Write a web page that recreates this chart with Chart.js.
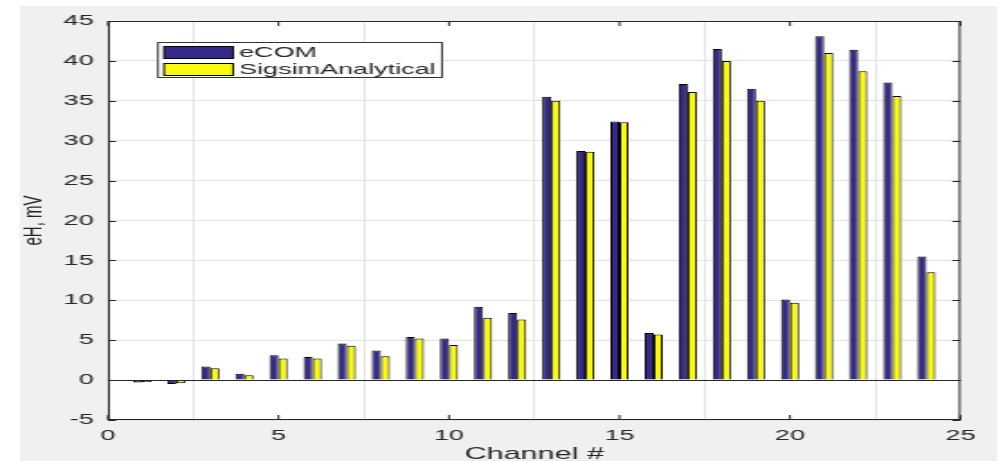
<!DOCTYPE html>
<html>
<head>
<meta charset="utf-8">
<script src="https://cdn.jsdelivr.net/npm/chart.js@4.4.1/dist/chart.umd.min.js"></script>
<style>
html, body { margin: 0; padding: 0; background: #fff; overflow: hidden; }
#wrap { width: 1003px; height: 461px; position: relative; }
/* the reference is a narrow figure stretched sideways, so stretch the canvas too */
#chart { position: absolute; left: 0; top: 0; transform: scaleX(1.8007); transform-origin: 0 0; }
</style>
</head>
<body>
<div id="wrap"><canvas id="chart" width="557" height="461"></canvas></div>
<script>
// data
const channels = [1, 2, 3, 4, 5, 6, 7, 8, 9, 10, 11, 12, 13, 14, 15, 16, 17, 18, 19, 20, 21, 22, 23, 24];
const ecom = [-0.3, -0.5, 1.7, 0.8, 3.1, 2.9, 4.6, 3.7, 5.4, 5.2, 9.2, 8.4, 35.5, 28.7, 32.4, 5.9, 37.1, 41.5, 36.5, 10.1, 43.1, 41.4, 37.3, 15.5];
const sigsim = [-0.25, -0.4, 1.5, 0.6, 2.7, 2.7, 4.3, 3.0, 5.2, 4.4, 7.8, 7.6, 35.0, 28.6, 32.3, 5.7, 36.1, 40.0, 35.0, 9.7, 41.0, 38.7, 35.6, 13.5];
const seriesNames = ['eCOM', 'SigsimAnalytical'];
const xTickValues = [0, 5, 10, 15, 20, 25];
const yTickValues = [-5, 0, 5, 10, 15, 20, 25, 30, 35, 40, 45];

const SX = 1003 / 557;
const FONT = "'Liberation Sans', Arial, Helvetica, sans-serif";
const AXIS_COLOR = '#262626';
const BAR_COLORS = ['#352a87', '#f9fb0e'];

// figure background, box, baseline, inward ticks and legend (matlab look)
const figurePlugin = {
    id: 'figure',
    beforeDraw(chart) {
        const ctx = chart.ctx;
        const a = chart.chartArea;
        ctx.save();
        ctx.fillStyle = '#ffffff';
        ctx.fillRect(0, 0, chart.width, chart.height);
        ctx.fillStyle = '#f0f0f0';
        ctx.fillRect(20 / SX, 6, (997 - 20) / SX, chart.height - 6);
        ctx.fillStyle = '#ffffff';
        ctx.fillRect(a.left, a.top, a.right - a.left, a.bottom - a.top);
        ctx.restore();
    },
    afterDatasetsDraw(chart) {
        const ctx = chart.ctx;
        const a = chart.chartArea;
        const xs = chart.scales.x;
        const ys = chart.scales.y;
        ctx.save();
        ctx.strokeStyle = AXIS_COLOR;
        ctx.lineWidth = 1;

        // bar baseline at zero
        const y0 = Math.round(ys.getPixelForValue(0)) + 0.5;
        ctx.beginPath();
        ctx.moveTo(a.left, y0);
        ctx.lineTo(a.right, y0);
        ctx.stroke();

        // axes box
        ctx.strokeRect(a.left + 0.5, a.top + 0.5, a.right - a.left - 1, a.bottom - a.top - 1);

        // short inward ticks on all four sides
        ctx.beginPath();
        xs.ticks.forEach(t => {
            const px = xs.getPixelForValue(t.value);
            ctx.moveTo(px, a.top); ctx.lineTo(px, a.top + 5);
            ctx.moveTo(px, a.bottom); ctx.lineTo(px, a.bottom - 5);
        });
        ys.ticks.forEach(t => {
            const py = Math.round(ys.getPixelForValue(t.value)) + 0.5;
            ctx.moveTo(a.left, py); ctx.lineTo(a.left + 4.5, py);
            ctx.moveTo(a.right, py); ctx.lineTo(a.right - 4.5, py);
        });
        ctx.stroke();

        // legend box
        const lx = 158 / SX, ly = 42.5, lw = (442 - 158) / SX, lh = 35;
        ctx.fillStyle = '#ffffff';
        ctx.fillRect(lx, ly, lw, lh);
        ctx.strokeStyle = '#333333';
        ctx.strokeRect(lx, ly, lw, lh);
        const rows = [46, 63];
        chart.data.datasets.forEach((ds, i) => {
            ctx.fillStyle = ds.backgroundColor;
            ctx.fillRect(164 / SX, rows[i], (233 - 164) / SX, 12);
            ctx.strokeStyle = '#000000';
            ctx.strokeRect(164 / SX, rows[i] + 0.5, (233 - 164) / SX, 12);
            ctx.fillStyle = AXIS_COLOR;
            ctx.font = '15px ' + FONT;
            ctx.textBaseline = 'middle';
            ctx.textAlign = 'left';
            ctx.fillText(ds.label, 239 / SX, rows[i] + 6.5);
        });
        ctx.restore();
    }
};

const ctx = document.getElementById('chart').getContext('2d');
const chart = new Chart(ctx, {
    type: 'bar',
    data: {
        datasets: [
            {
                label: seriesNames[0],
                data: channels.map((c, i) => ({ x: c, y: ecom[i] })),
                backgroundColor: BAR_COLORS[0],
                borderColor: '#000000',
                borderWidth: 1
            },
            {
                label: seriesNames[1],
                data: channels.map((c, i) => ({ x: c, y: sigsim[i] })),
                backgroundColor: BAR_COLORS[1],
                borderColor: '#000000',
                borderWidth: 1
            }
        ]
    },
    options: {
        responsive: false,
        animation: false,
        devicePixelRatio: 1,
        events: [],
        categoryPercentage: 0.53,
        barPercentage: 1,
        layout: { padding: { top: 21, right: 557 - 960.5 / SX, bottom: 0, left: 0 } },
        plugins: {
            legend: { display: false },
            tooltip: { enabled: false }
        },
        scales: {
            x: {
                type: 'linear',
                min: 0,
                max: 25,
                offset: false,
                afterBuildTicks: s => { s.ticks = xTickValues.map(v => ({ value: v })); },
                afterFit: s => { s.height = 41; },
                grid: { color: '#e3e3e3', drawTicks: false, tickLength: 0 },
                border: { display: false },
                ticks: { color: AXIS_COLOR, font: { family: FONT, size: 15 }, padding: 7, maxRotation: 0 },
                title: {
                    display: true,
                    text: 'Channel #',
                    color: AXIS_COLOR,
                    font: { family: FONT, size: 17, lineHeight: 1 },
                    padding: { top: 0, bottom: -2 }
                }
            },
            y: {
                min: -5,
                max: 45,
                afterBuildTicks: s => { s.ticks = yTickValues.map(v => ({ value: v })); },
                afterFit: s => { s.width = 108 / SX; },
                grid: { color: '#e3e3e3', drawTicks: false, tickLength: 0 },
                border: { display: false },
                ticks: { color: AXIS_COLOR, font: { family: FONT, size: 15 }, padding: 8 },
                title: {
                    display: true,
                    text: 'eH, mV',
                    color: AXIS_COLOR,
                    font: { family: FONT, size: 15, lineHeight: 1.2 },
                    padding: { top: 10, bottom: 0 }
                }
            }
        }
    },
    plugins: [figurePlugin]
});
</script>
</body>
</html>
